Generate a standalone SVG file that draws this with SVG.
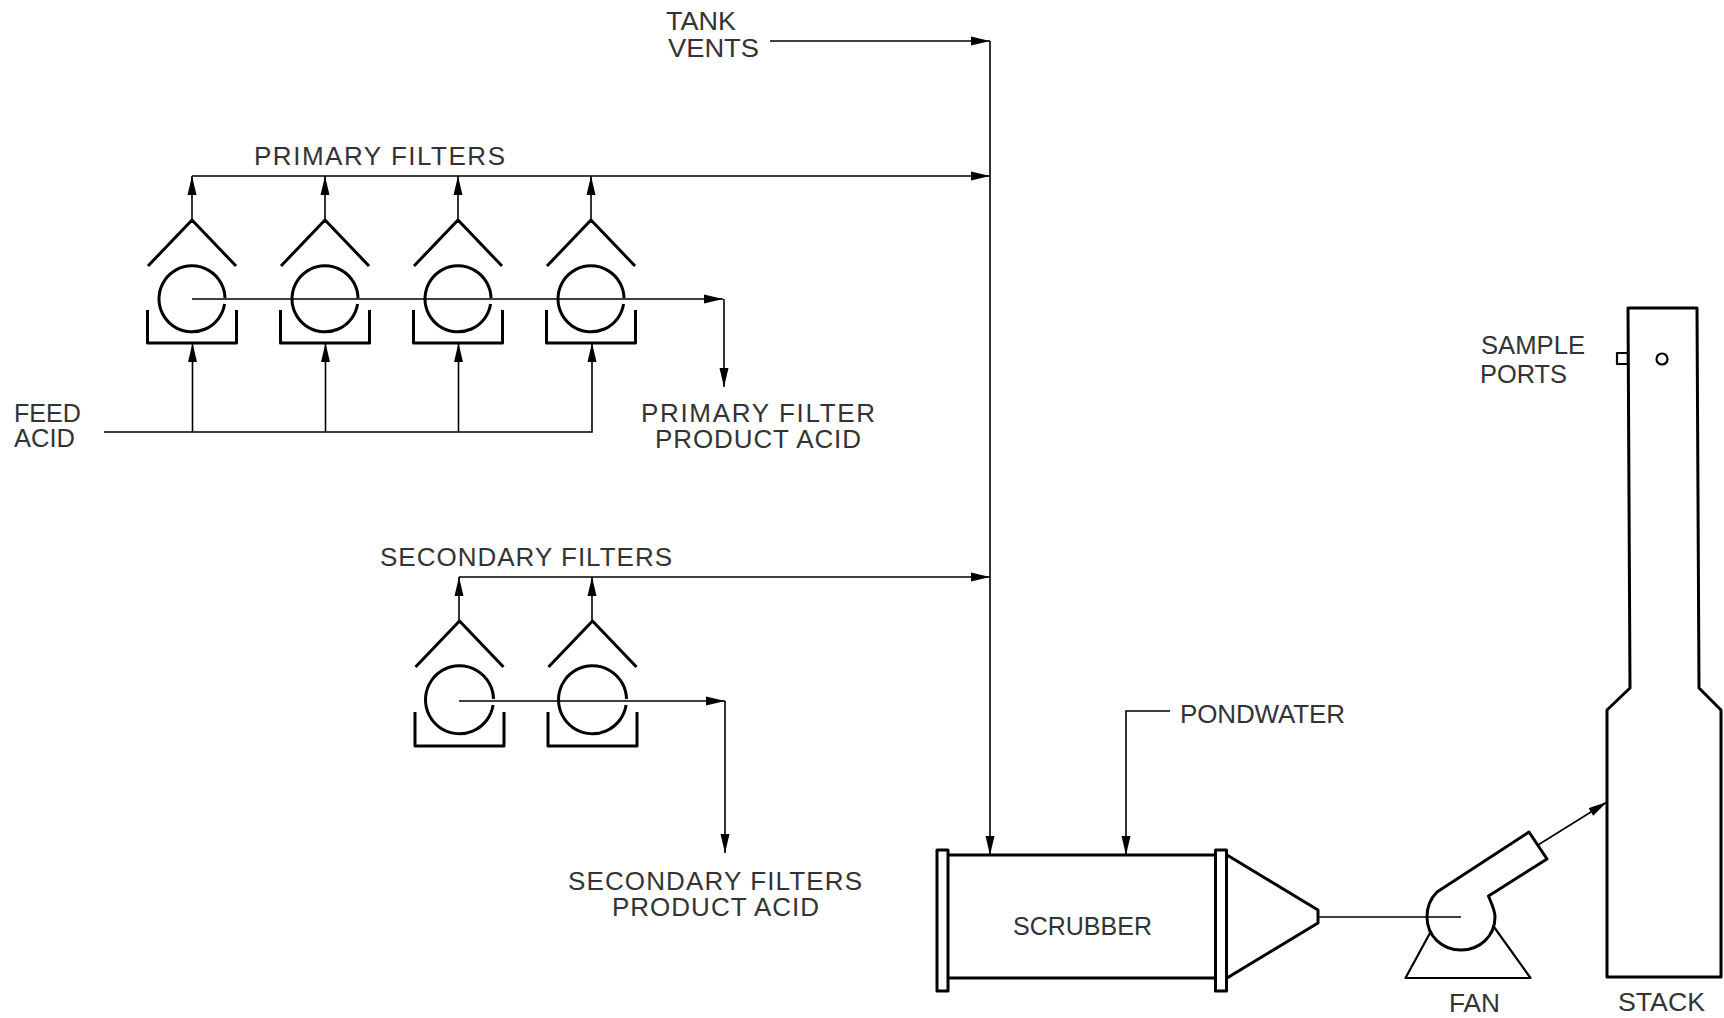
<svg xmlns="http://www.w3.org/2000/svg" width="1724" height="1018" viewBox="0 0 1724 1018">
<style>
text{font-family:"Liberation Sans",Arial,sans-serif;font-size:26px;fill:#333;font-weight:normal}
.c{fill:none;stroke:#000;stroke-width:1.6}
.t{fill:none;stroke:#000;stroke-width:3;stroke-linejoin:round}
.m{fill:none;stroke:#000;stroke-width:2.2;stroke-linejoin:round}
</style>
<defs>
<marker id="a" markerUnits="userSpaceOnUse" markerWidth="20" markerHeight="10" refX="19" refY="5" orient="auto"><path d="M0 .5L19 5L0 9.500Z" fill="#000"/></marker>
<g id="pf"><path class="t" d="M-44 -33L0 -79L44 -33M-44.500 11V44H44.500V11M33 -1A33 33 0 1 0 32.600 5"/></g>
<g id="sf"><path class="t" d="M-44 -33L0 -79L44 -33M-44.500 12V46H44.500V12M34 -1A34 34 0 1 0 33.600 5"/></g>
</defs>
<rect width="1724" height="1018" fill="#fff"/>
<g id="connectors">
<path class="c" d="M770 41H990" marker-end="url(#a)"/>
<path class="c" d="M192 176H990" marker-end="url(#a)"/>
<path class="c" d="M459 577H990" marker-end="url(#a)"/>
<path class="c" d="M990 41V855" marker-end="url(#a)"/>
<path class="c" d="M192 220V176" marker-end="url(#a)"/>
<path class="c" d="M325 220V176" marker-end="url(#a)"/>
<path class="c" d="M458 220V176" marker-end="url(#a)"/>
<path class="c" d="M591 220V176" marker-end="url(#a)"/>
<path class="c" d="M104 432H592V343" marker-end="url(#a)"/>
<path class="c" d="M192.500 432V343" marker-end="url(#a)"/>
<path class="c" d="M325.500 432V343" marker-end="url(#a)"/>
<path class="c" d="M458.500 432V343" marker-end="url(#a)"/>
<path class="c" d="M192 299H723" marker-end="url(#a)"/>
<path class="c" d="M724 299V387" marker-end="url(#a)"/>
<path class="c" d="M459 621V577" marker-end="url(#a)"/>
<path class="c" d="M592 621V577" marker-end="url(#a)"/>
<path class="c" d="M459 701H725" marker-end="url(#a)"/>
<path class="c" d="M725 701V853" marker-end="url(#a)"/>
<path class="c" d="M1170 711H1126V855" marker-end="url(#a)"/>
<path class="c" d="M1318 917H1461"/>
<path class="c" d="M1538 845L1607 802" marker-end="url(#a)"/>
</g>
<g id="primary-filter-1"><use href="#pf" x="192" y="299"/></g>
<g id="primary-filter-2"><use href="#pf" x="325" y="299"/></g>
<g id="primary-filter-3"><use href="#pf" x="458" y="299"/></g>
<g id="primary-filter-4"><use href="#pf" x="591" y="299"/></g>
<g id="secondary-filter-1"><use href="#sf" x="459.500" y="700"/></g>
<g id="secondary-filter-2"><use href="#sf" x="592.500" y="700"/></g>
<g id="scrubber">
<path class="t" d="M948 855H1215M948 978H1215M1227 855L1318 910V923L1227 978"/>
<rect class="t" x="937" y="850" width="11" height="141"/>
<rect class="t" x="1215.500" y="850" width="11" height="141"/>
<text x="1013" y="935" textLength="139" lengthAdjust="spacingAndGlyphs">SCRUBBER</text>
</g>
<g id="fan">
<path class="t" d="M1437 892L1529 832L1547 859L1488.500 896C1492 905 1495 910 1495 917C1495 936 1480 950 1461 950C1442 950 1427 936 1427 917C1427 906 1431 898 1437 892Z"/>
<path class="m" d="M1430 933L1405.500 978H1530.500L1494 927"/>
<text x="1449" y="1012" textLength="51" lengthAdjust="spacingAndGlyphs">FAN</text>
</g>
<g id="stack">
<path class="t" d="M1628 308H1697L1699 688L1721 710V977H1607V710L1630 688L1628 308Z"/>
<rect class="m" x="1617" y="353" width="11" height="11"/>
<circle class="m" cx="1662" cy="359" r="5.500"/>
<text x="1618" y="1011" textLength="87" lengthAdjust="spacingAndGlyphs">STACK</text>
<text x="1481" y="354" textLength="104" lengthAdjust="spacingAndGlyphs">SAMPLE</text>
<text x="1480" y="383" textLength="87" lengthAdjust="spacingAndGlyphs">PORTS</text>
</g>
<g id="labels">
<text x="666" y="30" textLength="70" lengthAdjust="spacingAndGlyphs">TANK</text>
<text x="668" y="57" textLength="91" lengthAdjust="spacingAndGlyphs">VENTS</text>
<text x="254" y="165" textLength="251" lengthAdjust="spacing">PRIMARY FILTERS</text>
<text x="14" y="422" textLength="67" lengthAdjust="spacingAndGlyphs">FEED</text>
<text x="14" y="447" textLength="61" lengthAdjust="spacingAndGlyphs">ACID</text>
<text x="641" y="422" textLength="234" lengthAdjust="spacing">PRIMARY FILTER</text>
<text x="655" y="448" textLength="206" lengthAdjust="spacing">PRODUCT ACID</text>
<text x="380" y="566" textLength="292" lengthAdjust="spacing">SECONDARY FILTERS</text>
<text x="568" y="890" textLength="294" lengthAdjust="spacing">SECONDARY FILTERS</text>
<text x="612" y="916" textLength="207" lengthAdjust="spacing">PRODUCT ACID</text>
<text x="1180" y="723" textLength="165" lengthAdjust="spacing">PONDWATER</text>
</g>
</svg>
